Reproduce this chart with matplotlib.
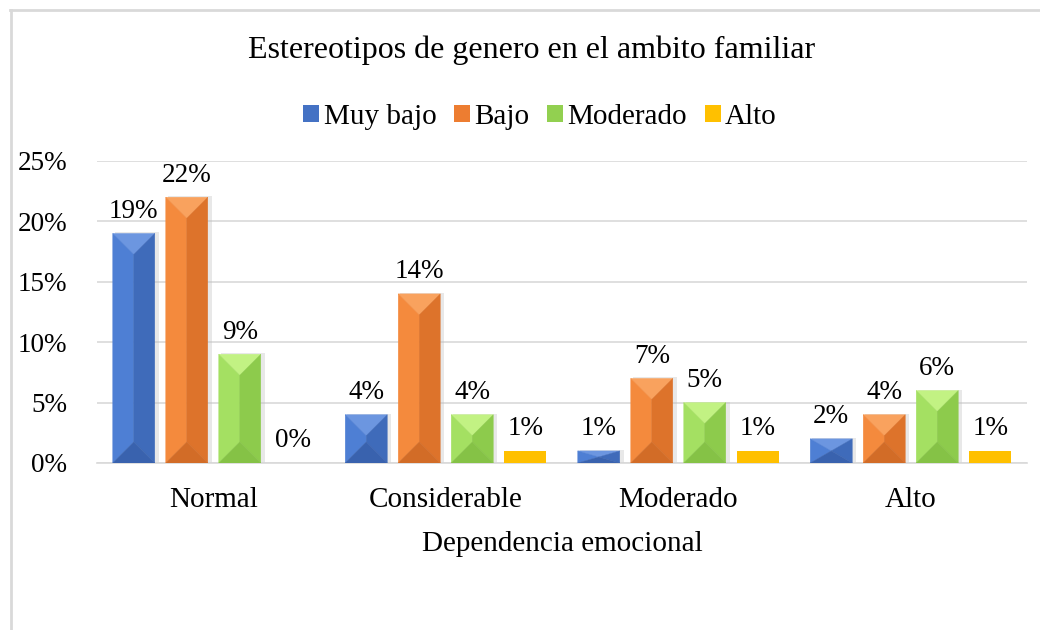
import numpy as np
import matplotlib.pyplot as plt
from matplotlib.patches import Polygon, Patch, Rectangle

plt.rcParams['font.family'] = ['Liberation Serif', 'DejaVu Serif']

categories = ["Normal", "Considerable", "Moderado", "Alto"]
series = ["Muy bajo", "Bajo", "Moderado", "Alto"]
muy_bajo = [19, 4, 1, 2]
bajo = [22, 14, 7, 4]
moderado = [9, 4, 5, 6]
alto = [0, 1, 1, 1]
values = [muy_bajo, bajo, moderado, alto]

# face colours: top, left, right, bottom (None = flat bar)
shades = [
    ("#6C96E0", "#4E7FD4", "#3F6BBA", "#3962AE"),
    ("#F9A25E", "#F48A3D", "#DD732B", "#D26C27"),
    ("#C2F283", "#A4E062", "#8DCB4C", "#85C246"),
    None,
]
base_colors = ["#4472C4", "#ED7D31", "#92D050", "#FFC000"]

W, H = 1040, 630
fig = plt.figure(figsize=(W / 100, H / 100), dpi=100)
ax = fig.add_axes([97 / W, 1 - 463 / H, (1027 - 97) / W, (463 - 161) / H])
ax.set_xlim(-0.5, 3.5)
ax.set_ylim(0, 25)

px_x = ax.bbox.width / 4.0
px_y = ax.bbox.height / 25.0

width = 42 / px_x
pitch = 53 / px_x
x = np.arange(len(categories))


def bevel_bar(ax, x0, h, w, cols):
    # hip-roof style bevel like the Excel preset
    cx = x0 + w / 2
    depth_px = min(w * px_x / 2, h * px_y / 2)
    d = depth_px / px_y
    top, bot = h, 0
    t_apex = (cx, top - d)
    b_apex = (cx, bot + d)
    faces = [
        ([(x0, top), (x0 + w, top), t_apex], cols[0]),
        ([(x0, top), t_apex, b_apex, (x0, bot)], cols[1]),
        ([(x0 + w, top), t_apex, b_apex, (x0 + w, bot)], cols[2]),
        ([(x0, bot), (x0 + w, bot), b_apex], cols[3]),
    ]
    # soft shadow
    ax.add_patch(Rectangle((x0 + 2 / px_x, 0), w + 2 / px_x, h + 1 / px_y,
                           color="#BFBFBF", alpha=0.35, lw=0, zorder=2))
    for pts, c in faces:
        ax.add_patch(Polygon(pts, closed=True, facecolor=c, edgecolor=c,
                             lw=0.3, zorder=3))


for i, vals in enumerate(values):
    offs = (i - 1.5) * pitch
    for k, v in enumerate(vals):
        x0 = x[k] + offs - width / 2
        if shades[i] is None:
            if v > 0:
                ax.bar(x[k] + offs, v, width, color=base_colors[i], zorder=3)
        else:
            bevel_bar(ax, x0, v, width, shades[i])
        ax.text(x[k] + offs, v + 0.8, f"{v}%", ha="center", va="bottom",
                fontsize=19.5, color="#000000", zorder=4)

ax.set_yticks(np.arange(0, 26, 5))
ax.set_yticklabels([f"{t}%" for t in range(0, 26, 5)], fontsize=19.5)
ax.set_xticks(x)
ax.set_xticklabels(categories, fontsize=21)
ax.tick_params(axis="both", length=0)
ax.tick_params(axis="y", pad=21.5)
ax.tick_params(axis="x", pad=17)
ax.grid(axis="y", color="#D9D9D9", lw=1.2, zorder=0)
ax.set_axisbelow(True)
for s in ["top", "right", "left"]:
    ax.spines[s].set_visible(False)
ax.spines["bottom"].set_color("#D9D9D9")
ax.spines["bottom"].set_linewidth(1.2)
ax.set_xlabel("Dependencia emocional", fontsize=21, labelpad=13)

fig.text(532 / W, 1 - 50 / H, "Estereotipos de genero en el ambito familiar",
         ha="center", va="center", fontsize=23)

handles = [Patch(facecolor=c, edgecolor="none") for c in base_colors]
fig.legend(handles, series, loc="center", bbox_to_anchor=(540 / W, 1 - 117 / H),
           ncol=4, frameon=False, fontsize=21, handlelength=0.55,
           handleheight=0.55, handletextpad=0.15, columnspacing=0.6)

# chart area border (cropped at right/bottom)
fig.add_artist(plt.Line2D([10.5 / W, 10.5 / W], [0, 1 - 10 / H],
                          transform=fig.transFigure, color="#D9D9D9", lw=2))
fig.add_artist(plt.Line2D([10 / W, 1], [1 - 10 / H, 1 - 10 / H],
                          transform=fig.transFigure, color="#D9D9D9", lw=2))

fig.savefig("out.png", dpi=100)
